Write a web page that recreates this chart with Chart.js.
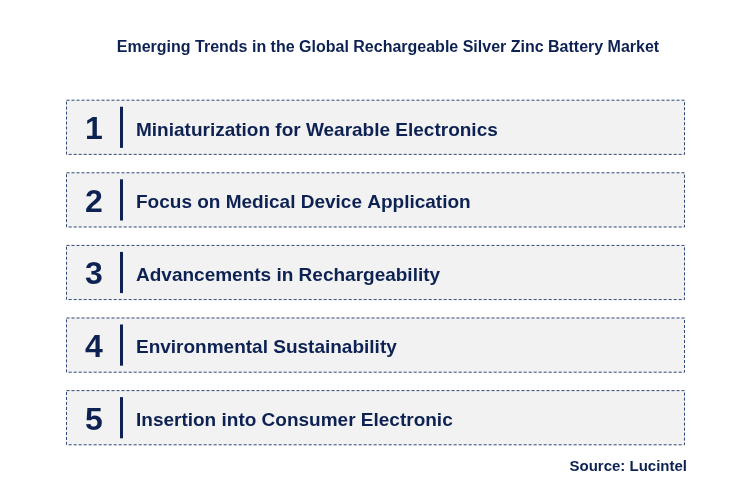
<!DOCTYPE html>
<html><head><meta charset="utf-8">
<script src="https://cdn.jsdelivr.net/npm/chart.js@4"></script>
<style>html,body{margin:0;padding:0;background:#fff}#w{width:733px;height:495px}</style>
</head><body><div id="w"><canvas id="c"></canvas></div>
<script>
const titleText = "Emerging Trends in the Global Rechargeable Silver Zinc Battery Market";
const numbers = ["1","2","3","4","5"];
const trends = ["Miniaturization for Wearable Electronics","Focus on Medical Device Application","Advancements in Rechargeability","Environmental Sustainability","Insertion into Consumer Electronic"];
const boxValues = [1,1,1,1,1];
const sourceText = "Source: Lucintel";
const navy = "#0d2253";

const deco = {
  id:"deco",
  afterDatasetsDraw(chart){
    const ctx = chart.ctx;
    const meta = chart.getDatasetMeta(0);
    ctx.save();
    meta.data.forEach((bar,i)=>{
      const p = bar.getProps(["x","y","base","height"],true);
      const x0 = p.base, x1 = p.x, y0 = p.y - p.height/2, y1 = p.y + p.height/2;
      ctx.setLineDash([3,2]); ctx.strokeStyle="#2f4a7a"; ctx.lineWidth=1;
      ctx.strokeRect(x0+0.5,y0+0.5,x1-x0-1,y1-y0-1);
      ctx.setLineDash([]);
      ctx.fillStyle=navy; ctx.textBaseline="middle";
      ctx.font="bold 32px Arial, 'Liberation Sans'"; ctx.textAlign="center";
      ctx.fillText(numbers[i], x0+28, p.y+3);
      ctx.fillRect(x0+54, y0+7, 3, y1-y0-14);
      ctx.font="bold 19px Arial, 'Liberation Sans'"; ctx.textAlign="left";
      ctx.fillText(trends[i], x0+70, p.y+3);
    });
    ctx.fillStyle=navy; ctx.textAlign="center"; ctx.textBaseline="middle";
    ctx.font="bold 16px Arial, 'Liberation Sans'";
    ctx.fillText(titleText, 388, 48);
    ctx.textAlign="right"; ctx.font="bold 15px Arial, 'Liberation Sans'";
    ctx.fillText(sourceText, 687, 467);
    ctx.restore();
  }
};

new Chart(document.getElementById("c"),{
  type:"bar",
  data:{labels:trends,datasets:[{data:boxValues,backgroundColor:"#f2f2f2",borderWidth:0,barPercentage:0.76,categoryPercentage:1}]},
  options:{
    indexAxis:"y",responsive:true,maintainAspectRatio:false,animation:false,
    layout:{padding:{left:66,right:48,top:91,bottom:41}},
    scales:{x:{display:false,min:0,max:1},y:{display:false}},
    plugins:{legend:{display:false},tooltip:{enabled:false}}
  },
  plugins:[deco]
});
</script></body></html>
